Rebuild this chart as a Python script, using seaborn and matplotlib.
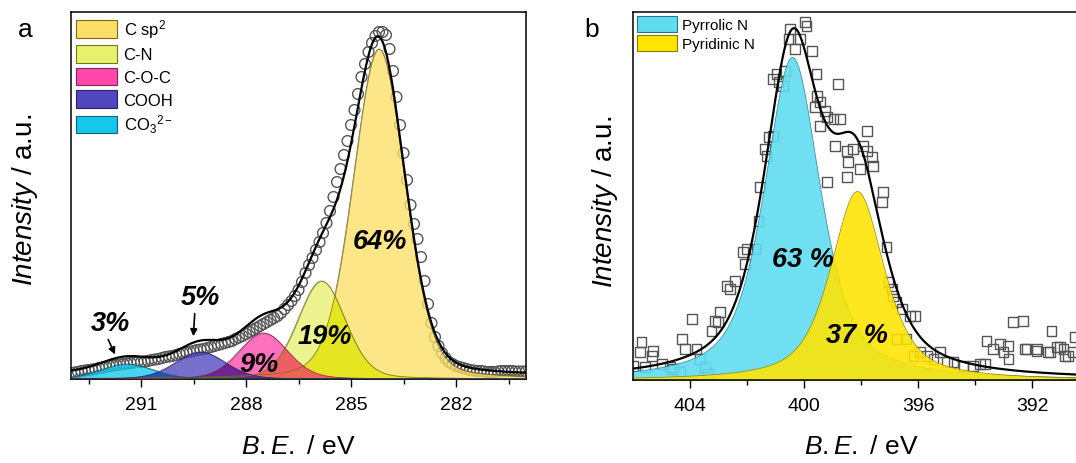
import numpy as np
import pandas as pd
import matplotlib
matplotlib.use("Agg")
import matplotlib.pyplot as plt
import seaborn as sns
from matplotlib.patches import Patch
from matplotlib.ticker import FixedLocator

sns.set_theme(style="ticks")
plt.rcParams["font.family"] = ["Liberation Sans", "DejaVu Sans"]
plt.rcParams["mathtext.fontset"] = "custom"
plt.rcParams["mathtext.rm"] = "Liberation Sans"
plt.rcParams["mathtext.it"] = "Liberation Sans:italic"
plt.rcParams["mathtext.bf"] = "Liberation Sans:bold"
plt.rcParams["text.color"] = "black"
plt.rcParams["axes.labelcolor"] = "black"

# ---------------- Panel a : C 1s ----------------
c1s_be_start = 293.0
c1s_be_step = 0.1
c1s_counts = [
    6, 6.5, 7, 8, 8.5, 9, 9.5, 10, 11, 11.5,
    12, 13, 13.5, 14, 14.5, 15, 15.5, 16, 16.5, 17,
    17, 17.5, 18, 19, 19.5, 20, 21, 22, 22.5, 23,
    24, 25, 26, 26.5, 27, 28, 29, 29.5, 30, 31,
    32, 33, 34, 35, 36, 37, 38, 40, 41.5, 43,
    45, 47, 49, 51, 53, 55, 57, 59, 61, 63,
    66, 70, 74, 78, 83, 89, 97, 106, 114, 121,
    129, 137, 146, 156, 168, 182, 197, 210, 224, 238,
    254, 269, 285, 302, 315, 327, 336, 343, 347, 347,
    344, 330, 308, 282, 254, 226, 199, 174, 155, 140,
    122, 98, 75, 56, 42, 33, 26, 21, 17, 15,
    13, 12, 11, 10, 9, 8.5, 8, 8, 7.5, 7,
    7, 7, 7.5, 8, 8, 8, 8, 7.5, 7.5, 7.5,
    7.5,
]
c1s_names = ["C sp$^2$", "C-N", "C-O-C", "COOH", "CO$_3$$^{2-}$"]
c1s_centers = [284.2, 285.84, 287.5, 289.3, 291.4]
c1s_heights = [330, 98, 46, 27, 15]
c1s_fwhm = [1.75, 1.6, 1.65, 1.7, 1.8]
c1s_lorentz = [0.2, 0.2, 0.2, 0.2, 0.2]
c1s_background = [3, 5]          # low-BE side, high-BE side
c1s_pct = ["64%", "19%", "9%", "5%", "3%"]
c1s_pct_be = [284.17, 285.74, 287.63, 289.29, 291.86]
c1s_pct_y = [138, 43, 15, 82, 56]

# ---------------- Panel b : N 1s ----------------
n1s_be = [405.70, 405.75, 405.29, 404.99, 404.70, 404.29, 404.18, 403.94, 403.77, 403.65,
          403.47, 403.12, 403.24, 402.95, 402.71, 402.42, 402.13, 402.01, 402.07, 401.72,
          401.60, 401.54, 401.37, 401.25, 401.08, 400.96, 400.90, 400.73, 400.67, 400.49,
          400.32, 400.14, 399.96, 399.73, 399.56, 399.61, 399.44, 399.26, 399.44, 398.80,
          398.74, 398.97, 399.20, 398.91, 398.50, 398.27, 398.45, 398.50, 398.04, 397.92,
          397.80, 397.62, 397.57, 397.22, 397.27, 397.10, 397.04, 396.92, 396.75, 396.57,
          396.11, 396.40, 396.16, 395.69, 395.23, 394.76, 394.06, 393.59, 393.36, 393.12,
          392.83, 392.66, 392.31, 392.19, 391.84, 391.31, 391.37, 390.90, 390.73, 393.65,
          392.84, 392.25, 391.82, 391.44, 391.02, 390.84, 390.56, 390.49, 395.93, 395.46,
          394.41, 393.82, 393.00, 391.13, 396.28, 404.59, 404.35, 403.36, 403.01, 402.60,
          401.31, 401.08, 400.55, 399.91, 399.55, 399.20, 397.80, 396.87, 396.75, 394.99,
          405.99, 405.58, 405.34]
n1s_counts = [38, 28, 29, 16, 13, 41, 31, 61, 31, 21,
              13, 59, 49, 68, 94, 99, 128, 131, 116, 131,
              159, 193, 231, 243, 244, 306, 298, 294, 309, 351,
              331, 341, 358, 329, 306, 273, 278, 269, 254, 296,
              261, 261, 198, 234, 229, 231, 218, 203, 211, 234,
              249, 223, 214, 188, 178, 133, 98, 91, 78, 71,
              64, 41, 24, 24, 28, 18, 14, 39, 31, 36,
              21, 58, 59, 31, 29, 49, 28, 31, 24, 16,
              34, 31, 31, 28, 33, 24, 28, 43, 28, 21,
              14, 16, 28, 33, 64, 11, 8, 6, 58, 91,
              224, 301, 341, 354, 284, 263, 229, 84, 41, 18,
              14, 13, 24]
n1s_names = ["Pyrrolic N", "Pyridinic N"]
n1s_centers = [400.42, 398.14]
n1s_heights = [323, 189]
n1s_fwhm = [2.35, 2.25]
n1s_lorentz = [0.65, 0.65]
n1s_pct = ["63 %", "37 %"]
n1s_pct_be = [400.04, 398.14]
n1s_pct_y = [121, 45]

# ---------------- styling ----------------
c1s_fill = ["#FDDF66", "#E8F06E", "#FF48AA", "#5046BE", "#14C8EB"]
c1s_edge = ["#7a6a20", "#6f7a10", "#8a2060", "#2a2070", "#106080"]
# colour of the overlap of neighbouring components (i, i+1)
c1s_overlap = ["#E4E414", "#EE4C5C", "#5A1E8C", "#2050B4"]
n1s_fill = ["#5FDCF0", "#FFE400"]
n1s_alpha = [0.9, 0.88]
n1s_edge = ["#207888", "#8a7a00"]


def pseudo_voigt(x, c, h, w, eta):
    u = (x - c) / w
    return h * ((1 - eta) * np.exp(-4 * np.log(2) * u ** 2) + eta / (1 + 4 * u ** 2))


W, H = 1076, 464
fig = plt.figure(figsize=(W / 100, H / 100), dpi=100)


def px_axes(l, t, r, b):
    return fig.add_axes([l / W, 1 - b / H, (r - l) / W, (b - t) / H])


axa = px_axes(71, 13, 526, 380)
axb = px_axes(633, 13, 1089, 381)

# ---- panel a ----
xa_lim = (293.0, 280.0)
ya_lim = (0, 367)
grid_a = np.linspace(280.0, 293.0, 1301)
comps_a = [pseudo_voigt(grid_a, c, h, w, e) for c, h, w, e in
           zip(c1s_centers, c1s_heights, c1s_fwhm, c1s_lorentz)]
total_a = np.sum(comps_a, axis=0)
cum = np.cumsum(total_a)
bg_a = c1s_background[0] + (c1s_background[1] - c1s_background[0]) * cum / cum[-1]
env_a = total_a + bg_a

be_a = c1s_be_start - c1s_be_step * np.arange(len(c1s_counts))
df_a = pd.DataFrame({"BE": be_a, "I": c1s_counts})
sns.scatterplot(data=df_a, x="BE", y="I", ax=axa, marker="o", s=60,
                facecolor="none", edgecolor="#555555", linewidth=1.0, zorder=1, legend=False)

for i in [4, 3, 2, 0, 1]:
    axa.fill_between(grid_a, 0, comps_a[i], facecolor=c1s_fill[i], alpha=0.78,
                     edgecolor=c1s_edge[i], linewidth=0.5, zorder=2)
for i in range(4):
    ov = np.minimum(comps_a[i], comps_a[i + 1])
    axa.fill_between(grid_a, 0, ov, facecolor=c1s_overlap[i], alpha=0.85,
                     edgecolor="none", linewidth=0, zorder=2.5)
for i in range(5):
    axa.plot(grid_a, comps_a[i], color=c1s_edge[i], lw=0.5, zorder=2.6)

df_env_a = pd.DataFrame({"BE": grid_a, "I": env_a})
sns.lineplot(data=df_env_a, x="BE", y="I", ax=axa, color="black", linewidth=1.6, zorder=5)

for t, xb, yv in zip(c1s_pct, c1s_pct_be, c1s_pct_y):
    axa.text(xb, yv, t, ha="center", va="center", fontsize=19.5, fontweight="bold",
             fontstyle="italic", zorder=6)
axa.annotate("", xy=(289.51, 40), xytext=(289.46, 68),
             arrowprops=dict(arrowstyle="-|>", color="black", lw=1.2, mutation_scale=10), zorder=6)
axa.annotate("", xy=(291.71, 22), xytext=(291.97, 42),
             arrowprops=dict(arrowstyle="-|>", color="black", lw=1.2, mutation_scale=10), zorder=6)

axa.set_xlim(*xa_lim)
axa.set_ylim(*ya_lim)
axa.xaxis.set_major_locator(FixedLocator([291, 288, 285, 282]))
axa.xaxis.set_minor_locator(FixedLocator([292.5, 289.5, 286.5, 283.5, 280.5]))

handles_a = [Patch(facecolor=c, edgecolor=e, linewidth=0.8, label=n)
             for c, e, n in zip(c1s_fill, c1s_edge, c1s_names)]
axa.legend(handles=handles_a, loc="upper left", bbox_to_anchor=(0.0, 1.0), frameon=False,
           fontsize=12, handlelength=2.45, handleheight=1.25, labelspacing=0.3,
           handletextpad=0.4, borderpad=0.3, borderaxespad=0.0)

# ---- panel b ----
xb_lim = (406.0, 390.0)
yb_lim = (0, 368)
grid_b = np.linspace(390.0, 406.0, 1601)
comps_b = [pseudo_voigt(grid_b, c, h, w, e) for c, h, w, e in
           zip(n1s_centers, n1s_heights, n1s_fwhm, n1s_lorentz)]
env_b = np.sum(comps_b, axis=0)

df_b = pd.DataFrame({"BE": n1s_be, "I": n1s_counts})
sns.scatterplot(data=df_b, x="BE", y="I", ax=axb, marker="s", s=48,
                facecolor="none", edgecolor="#555555", linewidth=1.0, zorder=1, legend=False)
for i in [0, 1]:
    axb.fill_between(grid_b, 0, comps_b[i], facecolor=n1s_fill[i], alpha=n1s_alpha[i],
                     edgecolor=n1s_edge[i], linewidth=0.5, zorder=2 + i * 0.1)
df_env_b = pd.DataFrame({"BE": grid_b, "I": env_b})
sns.lineplot(data=df_env_b, x="BE", y="I", ax=axb, color="black", linewidth=1.6, zorder=5)
for t, xb, yv in zip(n1s_pct, n1s_pct_be, n1s_pct_y):
    axb.text(xb, yv, t, ha="center", va="center", fontsize=19.5, fontweight="bold",
             fontstyle="italic", zorder=6)

axb.set_xlim(*xb_lim)
axb.set_ylim(*yb_lim)
axb.xaxis.set_major_locator(FixedLocator([404, 400, 396, 392]))
axb.xaxis.set_minor_locator(FixedLocator([402, 398, 394]))

handles_b = [Patch(facecolor=c, edgecolor=e, linewidth=0.8, label=n)
             for c, e, n in zip(n1s_fill, n1s_edge, n1s_names)]
axb.legend(handles=handles_b, loc="upper left", bbox_to_anchor=(0.0, 1.0), frameon=False,
           fontsize=11, handlelength=2.6, handleheight=1.3, labelspacing=0.15,
           handletextpad=0.35, borderpad=0.25, borderaxespad=0.0)

for ax in (axa, axb):
    for s in ax.spines.values():
        s.set_linewidth(1.1)
        s.set_color("black")
    ax.set_yticks([])
    ax.tick_params(axis="x", which="major", direction="out", length=6, width=1.0,
                   labelsize=14, pad=6, color="black", labelcolor="black")
    ax.tick_params(axis="x", which="minor", direction="out", length=3.5, width=1.0, color="black")
    ax.set_xlabel("")
    ax.set_ylabel("")
    ax.set_facecolor("white")

# axis titles placed in figure pixels (panel b's axes run past the right edge)
label_kw = dict(ha="center", va="top", fontsize=19)
fig.text(298 / W, 1 - 435 / H, r"$\mathit{B.E.}$ / eV", **label_kw)
fig.text(861 / W, 1 - 435 / H, r"$\mathit{B.E.}$ / eV", **label_kw)
ylab_kw = dict(ha="center", va="center", rotation=90, fontsize=20)
fig.text(25 / W, 1 - 200 / H, r"$\mathit{Intensity}$ / a.u.", **ylab_kw)
fig.text(605 / W, 1 - 202 / H, r"$\mathit{Intensity}$ / a.u.", **ylab_kw)

fig.text(25 / W, 1 - 30 / H, "a", fontsize=19, ha="center", va="center")
fig.text(592 / W, 1 - 30 / H, "b", fontsize=19, ha="center", va="center")

fig.savefig("out.png", dpi=100)
